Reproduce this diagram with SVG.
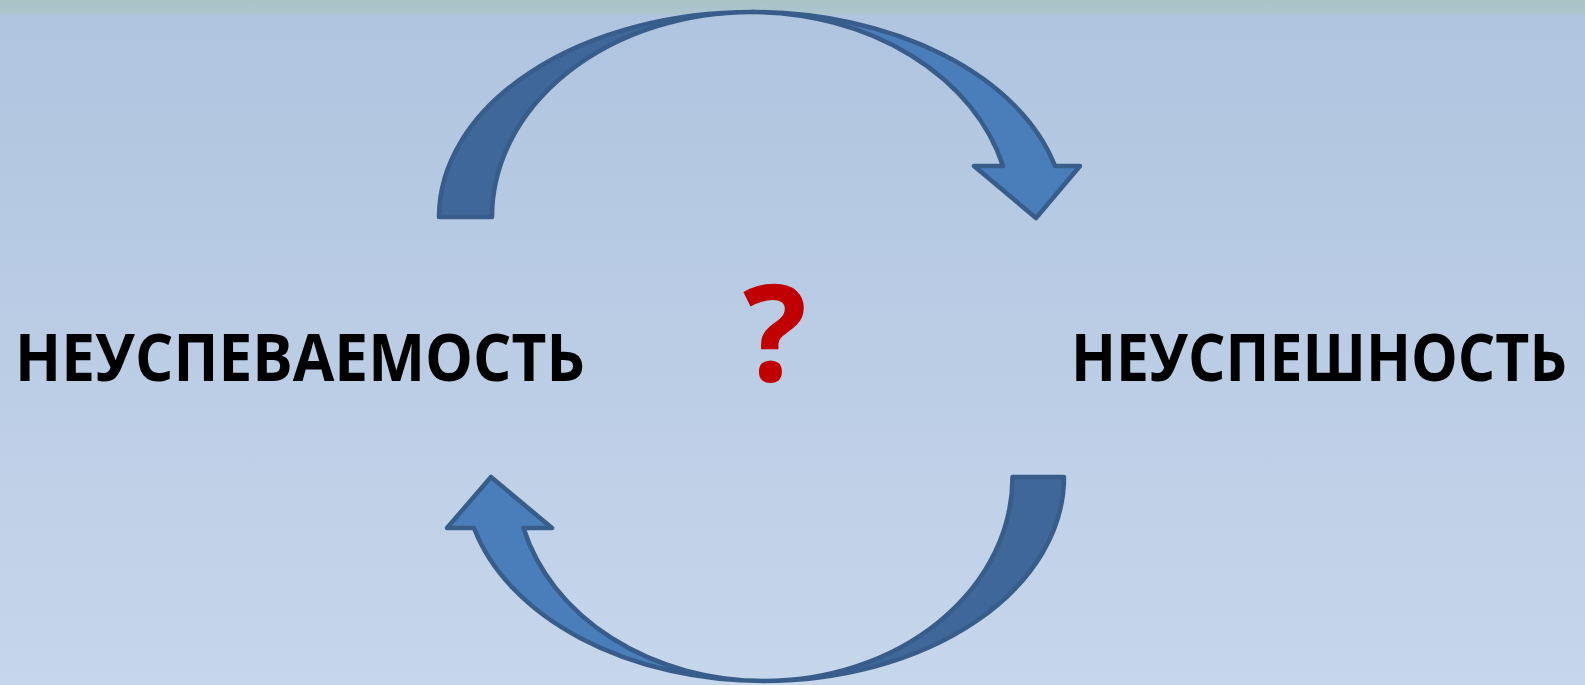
<svg xmlns="http://www.w3.org/2000/svg" width="1585" height="685" viewBox="0 0 1585 685">
  <defs>
    <linearGradient id="bg" x1="0" y1="0" x2="0" y2="1">
      <stop offset="0" stop-color="#afc4df"/>
      <stop offset="1" stop-color="#c6d6eb"/>
    </linearGradient>
    <linearGradient id="strip" x1="0" y1="0" x2="0" y2="1">
      <stop offset="0" stop-color="#a9c3c6"/>
      <stop offset="1" stop-color="#adc5d0"/>
    </linearGradient>
  </defs>
  <style>
    .dark { fill: #3f6799; stroke: #385d8a; stroke-width: 4.5; stroke-linejoin: round; }
    .light { fill: #4a7ebb; stroke: #385d8a; stroke-width: 4.5; stroke-linejoin: round; }
    .label { font-family: "Open Sans", "Liberation Sans", sans-serif; font-weight: bold; font-size: 67px; fill: #000000; }
    .q { font-family: "Open Sans", "Liberation Sans", sans-serif; font-weight: bold; font-size: 134px; fill: #c00000; }
  </style>
  <rect x="0" y="0" width="1585" height="685" fill="url(#bg)"/>
  <rect x="0" y="0" width="1585" height="15" fill="url(#strip)"/>

  <g id="connectors">
    <g id="arrow-top">
      <path class="dark" d="M439,217 A313,205 0 0 1 752,12 A260,205 0 0 0 492,217 Z"/>
      <path class="light" d="M752,12 A313,205 0 0 1 1055,166 L1080,166 L1036,218 L974,166 L1003,166 A260,205 0 0 0 752,12 Z"/>
    </g>
    <g id="arrow-bottom">
      <path class="dark" d="M1064,477 A300,204 0 0 1 764,681 A248.5,204 0 0 0 1012.5,477 Z"/>
      <path class="light" d="M764,681 A300,204 0 0 1 474,528 L447,528 L491,477 L552,528 L523.5,528 A248.5,204 0 0 0 764,681 Z"/>
    </g>
  </g>

  <g id="node-left">
    <text class="label" x="15" y="381" textLength="570" lengthAdjust="spacingAndGlyphs">НЕУСПЕВАЕМОСТЬ</text>
  </g>
  <g id="node-right">
    <text class="label" x="1071" y="381" textLength="496" lengthAdjust="spacingAndGlyphs">НЕУСПЕШНОСТЬ</text>
  </g>
  <g id="node-question">
    <text class="q" x="775" y="381" text-anchor="middle">?</text>
  </g>
</svg>
